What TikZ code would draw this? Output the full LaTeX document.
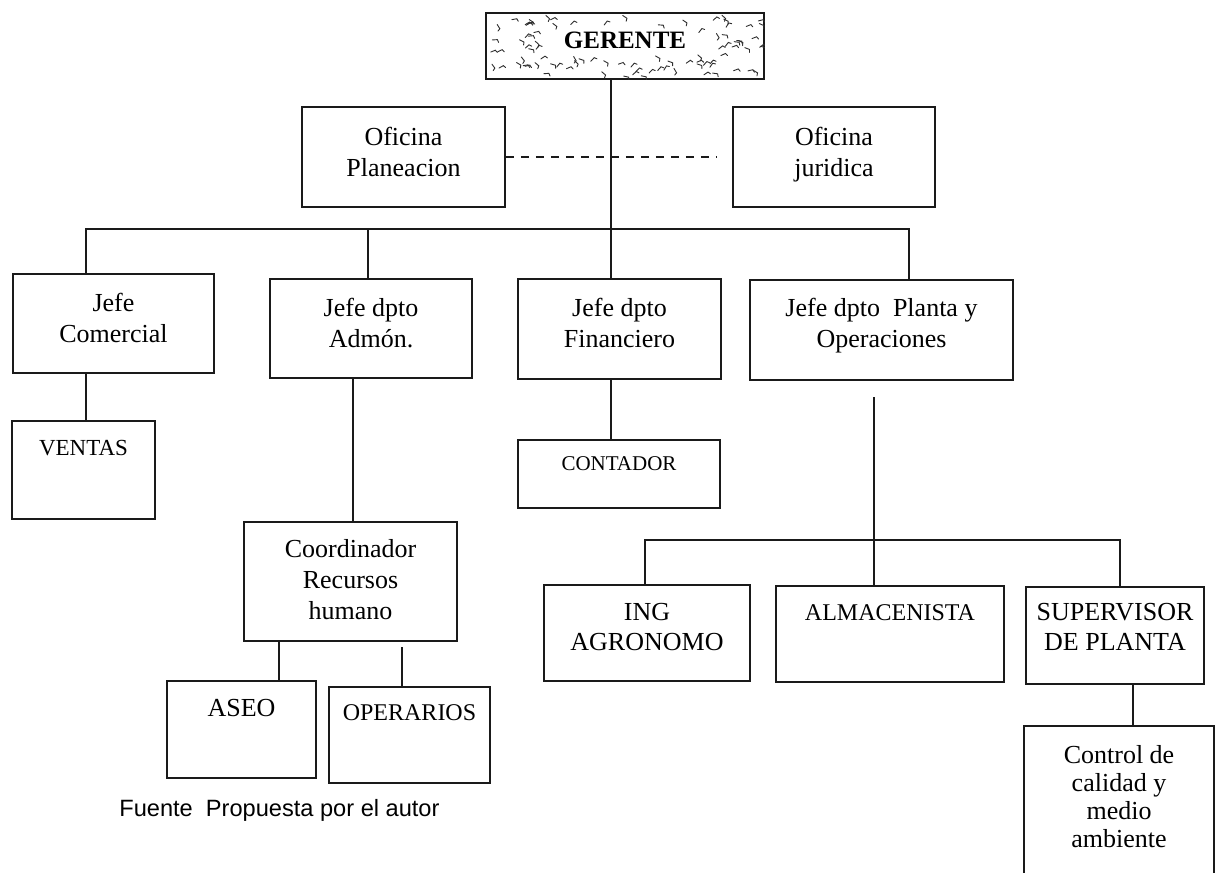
\documentclass[tikz,border=0pt]{standalone}
\usepackage{fontspec}
\setmainfont{Liberation Serif}
\setsansfont{Liberation Sans}
\usetikzlibrary{calc}
\newlength{\pxunit}
\setlength{\pxunit}{0.5pt}
\definecolor{boxline}{HTML}{1A1A1A}
\definecolor{scribble}{HTML}{2E2E2E}
% box contents: width, height, first baseline (all in px), text
\newcommand{\boxtext}[4]{\parbox[c][#2\pxunit][t]{#1\pxunit}{\centering\rule{0pt}{#3\pxunit}#4}}
\tikzset{
  orgbox/.style={draw=boxline, line width=0.8pt, inner sep=0pt, font=\fontsize{13}{15.5}\selectfont},
  link/.style={draw=boxline, line width=0.8pt},
  scrib/.style={draw=scribble, line width=0.45pt, line cap=round}
}

\begin{document}
\begin{tikzpicture}[x=0.5pt,y=-0.5pt]
	% Page frame
	\useasboundingbox (0,0) rectangle (1219,889);
	\fill[white] (0,0) rectangle (1219,889);

	% Top box
	\node[orgbox, font=\bfseries\fontsize{12.5}{15}\selectfont] (ger) at (625,46) {\boxtext{278}{66}{35}{GERENTE}};
	% Scribbled texture of the top box
	\begin{scope}
		\clip (ger.south west) rectangle (ger.north east);
		\pgfmathsetseed{4}
		\foreach \i in {1,...,110}{
			\pgfmathsetmacro{\sx}{490+rnd*272}
			\pgfmathsetmacro{\sy}{15+rnd*62}
			\pgfmathsetmacro{\sa}{rand*60}
			\pgfmathtruncatemacro{\hit}{(abs(\sx-624)<70)*(abs(\sy-41)<14)}
			\ifnum\hit=0
				\draw[scrib] (\sx,\sy) -- ++(\sa:5) -- ++(\sa+70:3);
			\fi
		}
	\end{scope}

	% Staff offices
	\node[orgbox] (plan) at (403.5,157) {\boxtext{203}{100}{38}{Oficina\\Planeacion}};
	\node[orgbox] (jur) at (834,157) {\boxtext{202}{100}{38}{Oficina\\juridica}};

	% Department heads
	\node[orgbox] (com) at (113.5,323.5) {\boxtext{201}{99}{37}{Jefe\\Comercial}};
	\node[orgbox] (adm) at (371,328.5) {\boxtext{202}{99}{37}{Jefe dpto\\Admón.}};
	\node[orgbox] (fin) at (619.5,329) {\boxtext{203}{100}{37}{Jefe dpto\\Financiero}};
	\node[orgbox] (pla) at (881.5,330) {\boxtext{263}{100}{36}{Jefe dpto\ \ Planta y\\Operaciones}};

	% Units
	\node[orgbox, font=\fontsize{11.5}{14}\selectfont] (ven) at (83.5,470) {\boxtext{143}{98}{34}{VENTAS}};
	\node[orgbox, font=\fontsize{10.5}{13}\selectfont] (con) at (619,474) {\boxtext{202}{68}{30}{CONTADOR}};
	\node[orgbox] (coo) at (350.5,581.5) {\boxtext{213}{119}{35}{Coordinador\\Recursos\\humano}};
	\node[orgbox] (ase) at (241.5,729.5) {\boxtext{149}{97}{35}{ASEO}};
	\node[orgbox, font=\fontsize{12}{15}\selectfont] (ope) at (409.5,735) {\boxtext{161}{96}{33}{OPERARIOS}};
	\node[orgbox, font=\fontsize{13}{15}\selectfont] (ing) at (647,633) {\boxtext{206}{96}{35}{ING\\AGRONOMO}};
	\node[orgbox, font=\fontsize{12}{15}\selectfont] (alm) at (890,634) {\boxtext{228}{96}{34}{ALMACENISTA}};
	\node[orgbox, font=\fontsize{13}{15}\selectfont] (sup) at (1115,635.5) {\boxtext{178}{97}{33}{SUPERVISOR\\DE PLANTA}};
	\node[orgbox, draw=none, font=\fontsize{13}{14}\selectfont] (ctl) at (1119,799.5) {\boxtext{188}{145}{36}{Control de\\calidad y\\medio\\ambiente}};
	\draw[link] (ctl.south west) -- (ctl.north west) -- (ctl.north east) -- (ctl.south east);

	% Source note
	\node[font=\sffamily\fontsize{11.8}{14}\selectfont, anchor=west, inner sep=0pt] (fuente) at (119,810) {Fuente\ \ Propuesta por el autor};

	% Connectors
	\coordinate (trunk) at (611,229);
	\coordinate (busL) at (86,229);
	\coordinate (busR) at (909,229);
	\coordinate (busA) at (368,229);
	\coordinate (dashend) at (717,157);
	\draw[link] (ger.south -| trunk) -- (fin.north -| trunk);
	\draw[link, dash pattern=on 4pt off 3.5pt] (plan.east) -- (dashend);
	\draw[link] (com.north -| busL) -- (busL) -- (busR) -- (pla.north -| busR);
	\draw[link] (busA) -- (adm.north -| busA);

	\coordinate (admstem) at (353,378);
	\coordinate (plastem) at (874,397);
	\coordinate (subL) at (645,540);
	\coordinate (subR) at (1120,540);
	\coordinate (cooL) at (279,641);
	\coordinate (cooR) at (402,647);
	\coordinate (supstem) at (1133,684);
	\draw[link] (com.south -| busL) -- (ven.north -| busL);
	\draw[link] (adm.south -| admstem) -- (coo.north -| admstem);
	\draw[link] (fin.south -| trunk) -- (con.north -| trunk);
	\draw[link] (plastem) -- (alm.north -| plastem);
	\draw[link] (ing.north -| subL) -- (subL) -- (subR) -- (sup.north -| subR);
	\draw[link] (coo.south -| cooL) -- (ase.north -| cooL);
	\draw[link] (cooR) -- (ope.north -| cooR);
	\draw[link] (sup.south -| supstem) -- (ctl.north -| supstem);
\end{tikzpicture}
\end{document}
